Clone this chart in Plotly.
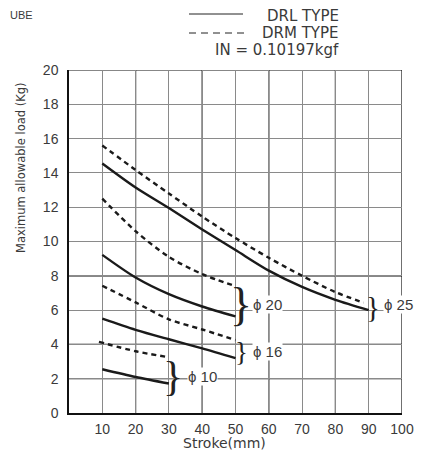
import plotly.graph_objects as go

# ---- data ----
x_phi10_drl = [10, 20, 30]
y_phi10_drl = [2.55, 2.1, 1.72]
x_phi10_drm = [9, 20, 30]
y_phi10_drm = [4.15, 3.6, 3.25]

x_phi16 = [10, 20, 30, 40, 50]
y_phi16_drl = [5.5, 4.85, 4.3, 3.77, 3.2]
y_phi16_drm = [7.42, 6.45, 5.46, 4.87, 4.25]

x_phi20 = [10, 20, 30, 40, 50]
y_phi20_drl = [9.22, 7.9, 6.93, 6.21, 5.63]
y_phi20_drm = [12.5, 10.6, 9.1, 8.1, 7.4]

x_phi25_drl = [10, 20, 30, 40, 50, 60, 70, 80, 90]
y_phi25_drl = [14.55, 13.15, 11.95, 10.7, 9.5, 8.3, 7.35, 6.6, 6.0]
x_phi25_drm = [10, 20, 30, 40, 50, 60, 70, 80, 88.5]
y_phi25_drm = [15.6, 14.17, 12.8, 11.45, 10.2, 9.05, 8.0, 7.05, 6.43]

x_ticks = [10, 20, 30, 40, 50, 60, 70, 80, 90, 100]
y_ticks = [0, 2, 4, 6, 8, 10, 12, 14, 16, 18, 20]
x_black_grid = [20, 40, 60, 80, 100]
y_black_grid = [2, 4, 8, 10, 20]

size_labels = ["ϕ 10", "ϕ 16", "ϕ 20", "ϕ 25"]
brace_x = [31.3, 51.8, 51.8, 91.3]
brace_y = [2.15, 3.55, 6.3, 6.2]
brace_size = [42, 27, 46, 29]
label_x = [35.3, 55.0, 55.0, 94.3]
label_y = [2.15, 3.6, 6.3, 6.3]

FONT = "Liberation Sans"
FONT_W = "DejaVu Sans"
TXT = "#3a3a3a"
LINE = "#1a1a1a"

# page offset (browser body margin) compensation
OFF = 8
W, H = 423 - OFF, 453 - OFF
PL, PR, PT, PB = 69, 402, 70, 413  # plot area in window pixels
ml, mr, mt, mb = PL - OFF, 423 - PR, PT - OFF, 453 - PB
pw, ph = PR - PL, PB - PT


def px_x(p):
    return (p - PL) / pw


def px_y(p):
    return (PB - p) / ph


fig = go.Figure()

series = [
    (x_phi10_drl, y_phi10_drl, "solid"),
    (x_phi10_drm, y_phi10_drm, "5px,4px"),
    (x_phi16, y_phi16_drl, "solid"),
    (x_phi16, y_phi16_drm, "5px,4px"),
    (x_phi20, y_phi20_drl, "solid"),
    (x_phi20, y_phi20_drm, "5px,4px"),
    (x_phi25_drl, y_phi25_drl, "solid"),
    (x_phi25_drm, y_phi25_drm, "5px,4px"),
]
for xs, ys, dash in series:
    fig.add_trace(go.Scatter(
        x=xs, y=ys, mode="lines",
        line=dict(color=LINE, width=2.4, dash=dash, shape="spline", smoothing=0.8),
        showlegend=False, hoverinfo="skip"))

shapes = []
for xv in x_black_grid:
    shapes.append(dict(type="line", xref="x", yref="paper", x0=xv, x1=xv, y0=0, y1=1,
                       line=dict(color="#111111", width=1.2), layer="below"))
for yv in y_black_grid:
    shapes.append(dict(type="line", xref="paper", yref="y", x0=0, x1=1, y0=yv, y1=yv,
                       line=dict(color="#111111", width=1.2), layer="below"))

shapes.append(dict(type="line", xref="paper", yref="paper",
                   x0=px_x(189), x1=px_x(243), y0=px_y(14), y1=px_y(14),
                   line=dict(color="#222222", width=1)))
shapes.append(dict(type="line", xref="paper", yref="paper",
                   x0=px_x(189), x1=px_x(245), y0=px_y(33), y1=px_y(33),
                   line=dict(color="#222222", width=1, dash="7px,5px")))

annotations = []
legend_texts = ["DRL TYPE", "DRM TYPE", "IN = 0.10197kgf"]
legend_y_px = [16, 33, 50]
for t, yp in zip(legend_texts, legend_y_px):
    annotations.append(dict(text=t, xref="paper", yref="paper", x=px_x(341), y=px_y(yp),
                            xanchor="right", yanchor="middle", showarrow=False,
                            font=dict(family=FONT_W, size=15, color=TXT)))

annotations.append(dict(text="UBE", xref="paper", yref="paper", x=px_x(OFF), y=px_y(15),
                        xanchor="left", yanchor="middle", showarrow=False,
                        font=dict(family=FONT, size=11, color=TXT)))

annotations.append(dict(text="Maximum allowable load (Kg)", xref="paper", yref="paper",
                        x=px_x(21), y=px_y(168), textangle=-90,
                        xanchor="center", yanchor="middle", showarrow=False,
                        font=dict(family=FONT_W, size=11.5, color=TXT)))
annotations.append(dict(text="Stroke(mm)", xref="paper", yref="paper",
                        x=px_x(224), y=px_y(443),
                        xanchor="center", yanchor="middle", showarrow=False,
                        font=dict(family=FONT_W, size=14, color=TXT)))

for bx, by, bs in zip(brace_x, brace_y, brace_size):
    annotations.append(dict(text="}", x=bx, y=by, xref="x", yref="y",
                            xanchor="center", yanchor="middle", showarrow=False,
                            font=dict(family="Liberation Serif", size=bs, color="#222222")))
for t, lx, ly in zip(size_labels, label_x, label_y):
    annotations.append(dict(text=t, x=lx, y=ly, xref="x", yref="y",
                            xanchor="left", yanchor="middle", showarrow=False,
                            bgcolor="white", borderpad=0,
                            font=dict(family=FONT, size=15, color=TXT)))

fig.update_layout(
    width=W, height=H,
    margin=dict(l=ml, r=mr, t=mt, b=mb, pad=0, autoexpand=False),
    paper_bgcolor="white", plot_bgcolor="white",
    showlegend=False,
    shapes=shapes, annotations=annotations,
    xaxis=dict(range=[0, 100], tickvals=x_ticks, ticktext=[str(v) for v in x_ticks],
               showgrid=True, gridcolor="#8a8a8a", gridwidth=1.2,
               showline=True, linecolor="#111111", linewidth=1.5,
               zeroline=False, ticks="", ticklabelstandoff=2,
               tickfont=dict(family=FONT, size=14, color=TXT), fixedrange=True),
    yaxis=dict(range=[0, 20], tickvals=y_ticks, ticktext=[str(v) for v in y_ticks],
               showgrid=True, gridcolor="#8a8a8a", gridwidth=1.2,
               showline=True, linecolor="#111111", linewidth=1.5,
               zeroline=False, ticks="", ticklabelstandoff=6,
               tickfont=dict(family=FONT, size=14, color=TXT), fixedrange=True),
)

fig.write_html("out.html")
